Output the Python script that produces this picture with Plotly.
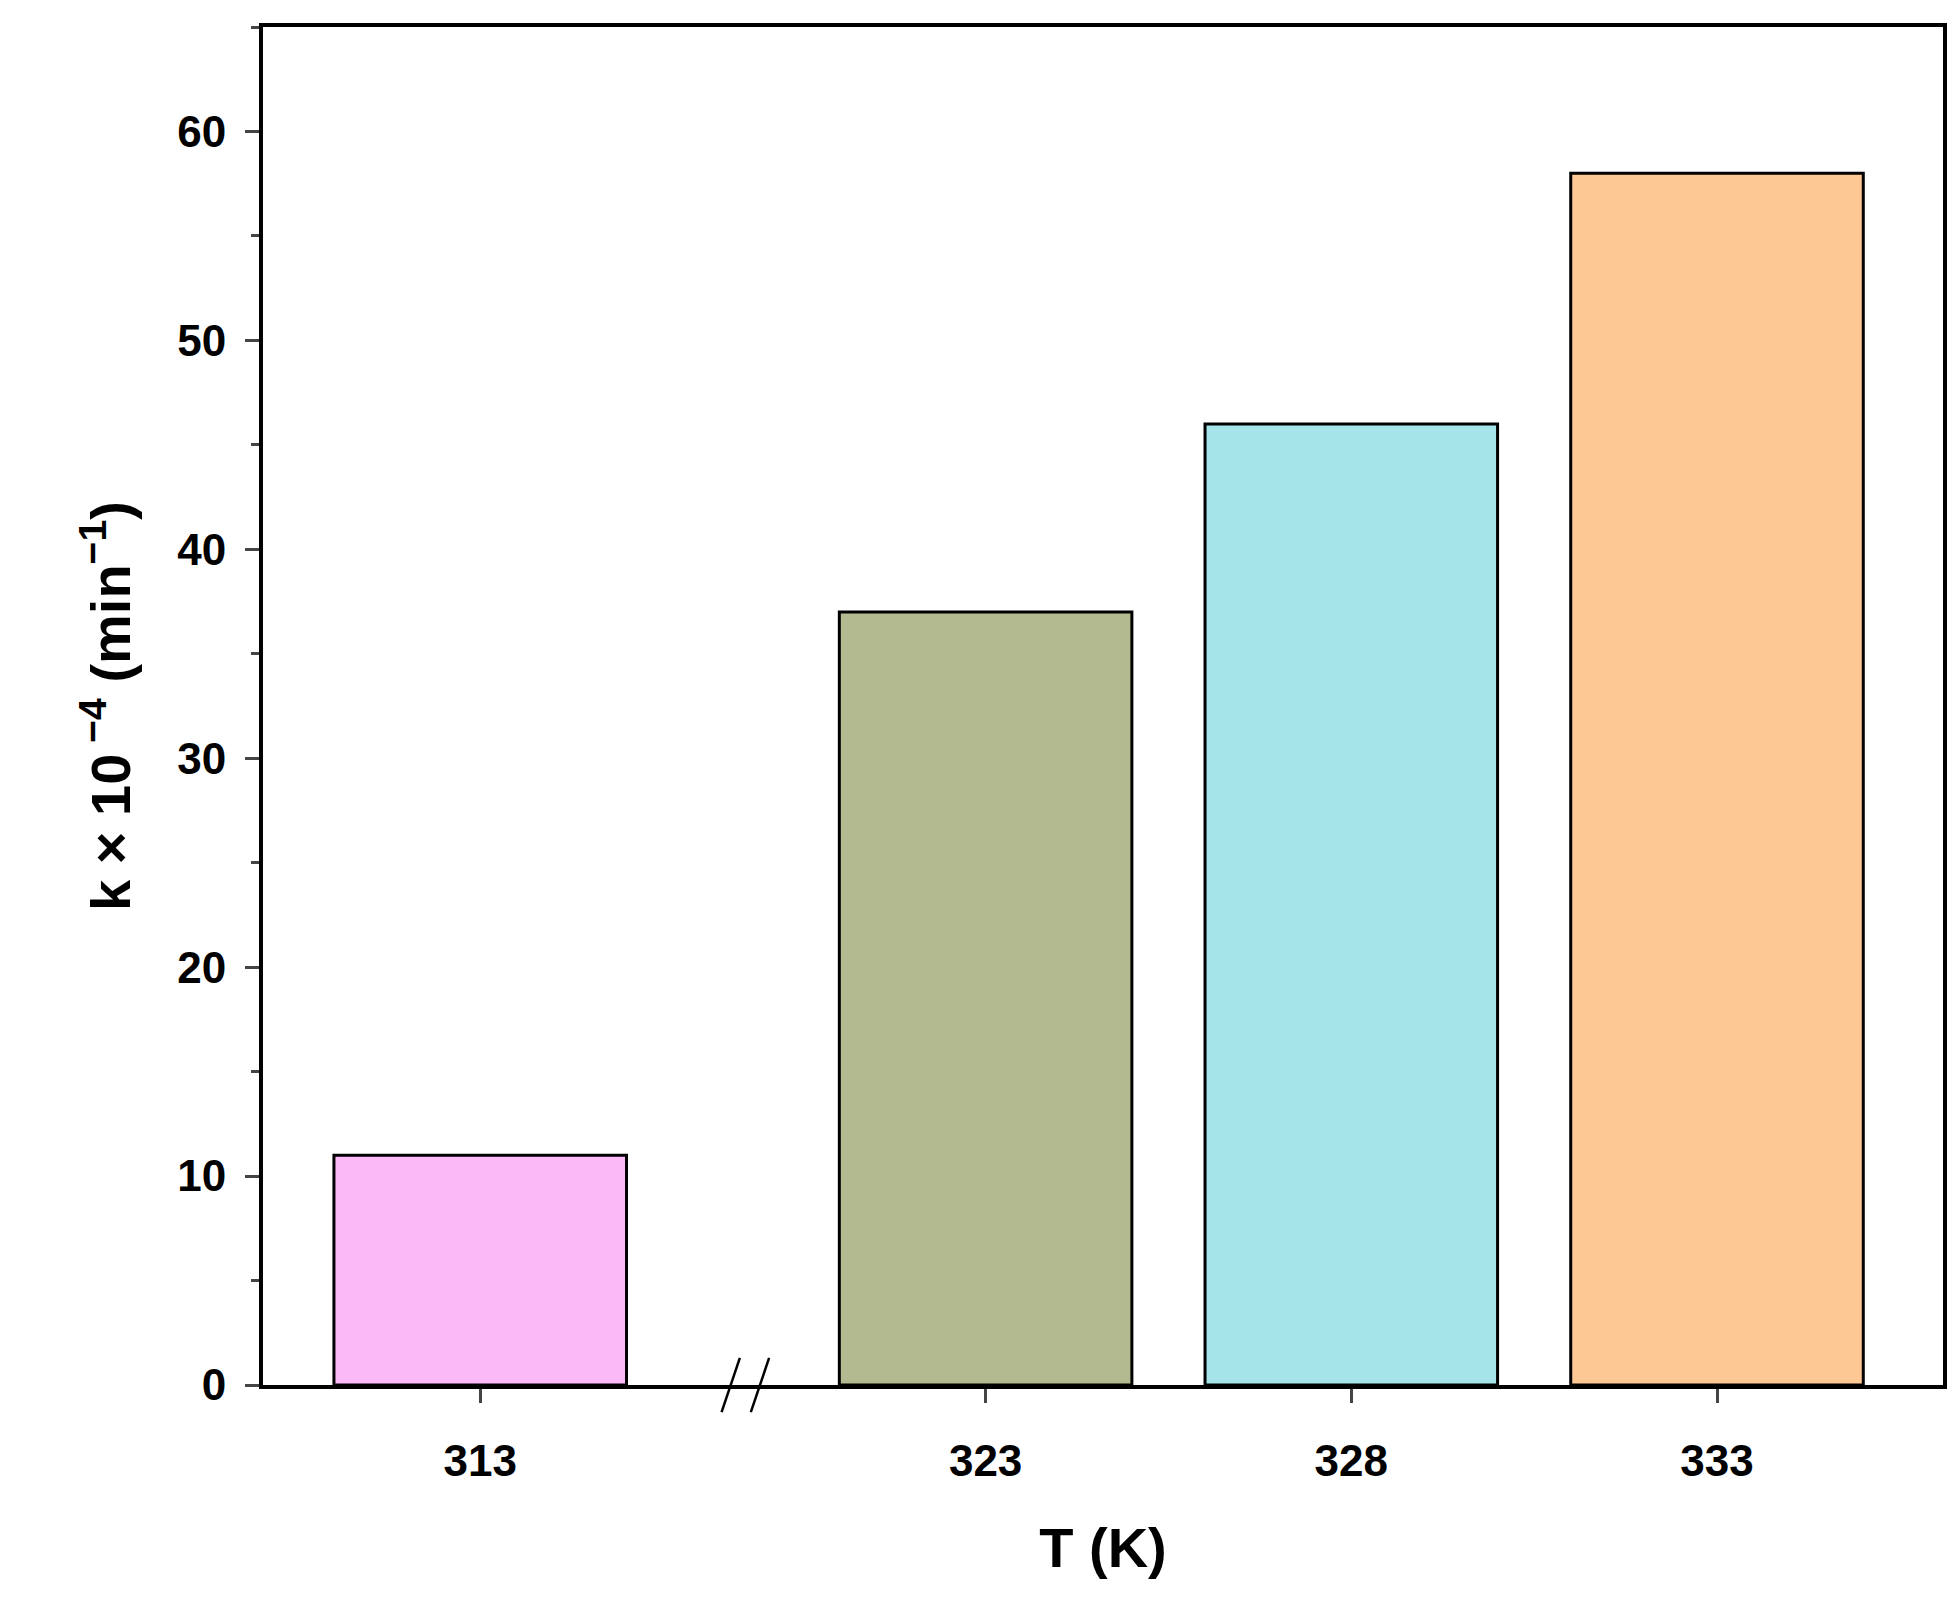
import plotly.graph_objects as go

temps = ["313", "323", "328", "333"]
k_vals = [11, 37, 46, 58]
x_pos = [0, 1.382, 2.382, 3.382]
colors = ["#FBB9F8", "#B3BA90", "#A5E5EA", "#FEC895"]

fig = go.Figure()
fig.add_trace(go.Bar(
    x=x_pos, y=k_vals, width=0.8,
    marker=dict(color=colors, line=dict(color="black", width=3)),
))

# axis break marks
for dx in (0.0, 0.08):
    fig.add_shape(type="line", xref="x", yref="paper",
                  x0=0.66 + dx, x1=0.71 + dx, y0=-0.02, y1=0.02,
                  line=dict(color="black", width=2.5))

fig.update_layout(
    width=1959, height=1603,
    paper_bgcolor="white", plot_bgcolor="white",
    font=dict(family="Liberation Sans, Arial", color="black", size=44),
    margin=dict(l=255, r=24, t=19, b=226),
    showlegend=False,
    xaxis=dict(
        range=[-0.594, 4.0], tickvals=x_pos, ticktext=[f"<b>{t}</b>" for t in temps],
        showline=True, linecolor="black", linewidth=4, mirror=True,
        ticks="outside", ticklen=14, tickwidth=2.5, showgrid=False, zeroline=False,
        ticklabelstandoff=20,
        title=dict(text="<b>T (K)</b>", font=dict(size=56), standoff=45),
    ),
    yaxis=dict(
        range=[0, 65], tickvals=[0, 10, 20, 30, 40, 50, 60],
        ticktext=[f"<b>{v}</b>" for v in [0, 10, 20, 30, 40, 50, 60]],
        showline=True, linecolor="black", linewidth=4, mirror=True,
        ticks="outside", ticklen=14, tickwidth=2.5, showgrid=False, zeroline=False,
        ticklabelstandoff=10,
        minor=dict(dtick=5, ticks="outside", ticklen=8, tickwidth=2.5, showgrid=False),
        title=dict(text="<b>k × 10<sup> −4</sup> (min<sup>−1</sup>)</b>", font=dict(size=56), standoff=30),
    ),
)

fig.write_html("out.html")
